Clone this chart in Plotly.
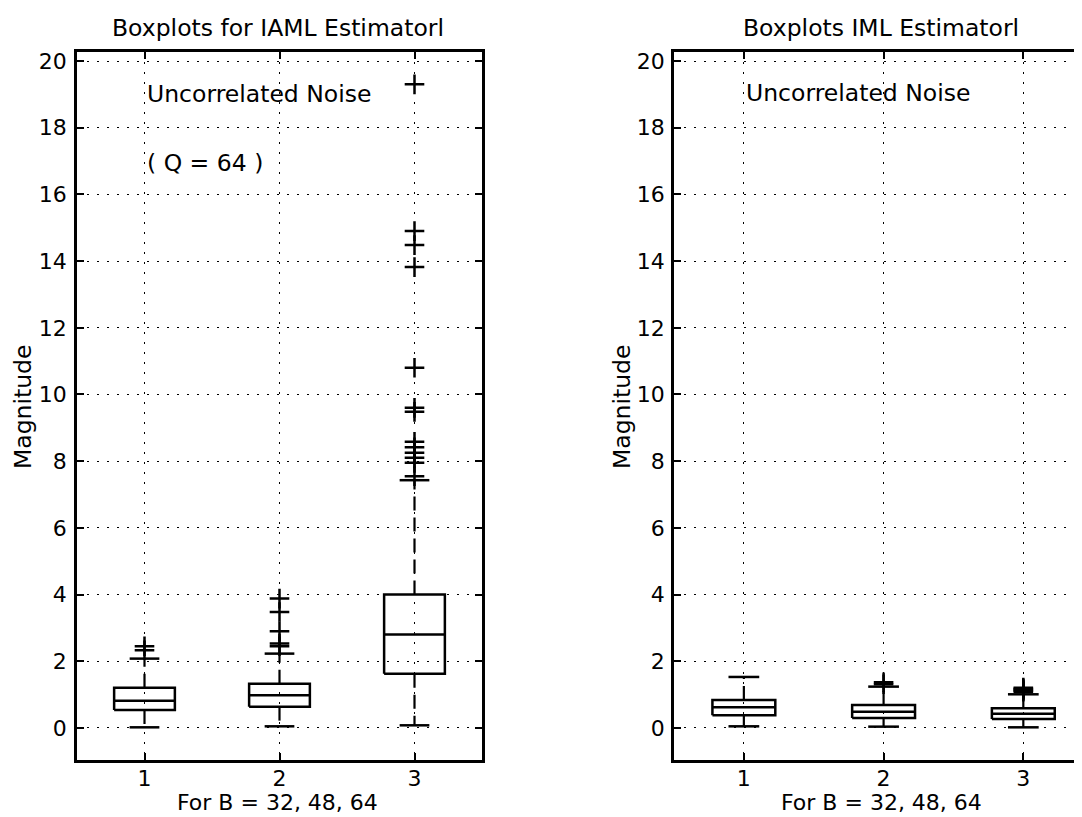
import plotly.graph_objects as go

# Box statistics, one entry per B = 32, 48, 64
POSITIONS = [1, 2, 3]
AML_Q1 = [0.54, 0.64, 1.63]
AML_MED = [0.82, 0.98, 2.80]
AML_Q3 = [1.21, 1.33, 4.00]
AML_LO = [0.02, 0.05, 0.08]
AML_HI = [2.08, 2.23, 7.43]
AML_OUT = [
    [2.33, 2.45],
    [2.45, 2.53, 2.90, 3.48, 3.88],
    [7.55, 7.95, 8.10, 8.25, 8.42, 8.58, 9.48, 9.60, 10.80, 13.82, 14.48, 14.90, 19.30],
]

ML_Q1 = [0.38, 0.30, 0.27]
ML_MED = [0.62, 0.49, 0.43]
ML_Q3 = [0.84, 0.69, 0.59]
ML_LO = [0.05, 0.04, 0.02]
ML_HI = [1.53, 1.24, 1.01]
ML_OUT = [[], [1.31, 1.37], [1.09, 1.12, 1.15, 1.18, 1.21]]

Y_TICKS = list(range(0, 21, 2))
X_TICKS = [1, 2, 3]

FONT = "DejaVu Sans"
FS = 23.5
BW = 0.225   # half box width
CW = 0.11    # half cap width

# the page body has an 8px margin, so the figure is shifted by it
OFF = 8
W, H = 1082 - OFF, 817 - OFF


def px(x):
    return (x - OFF) / W


def py(y):
    return 1 - (y - OFF) / H


def box_traces(xa, ya, q1, med, q3, lo, hi, out):
    bx, by, mx, my, wx, wy, cx, cy, ox, oy = ([] for _ in range(10))
    for p, a, m, b, l, h, o in zip(POSITIONS, q1, med, q3, lo, hi, out):
        bx += [p - BW, p + BW, p + BW, p - BW, p - BW, None]
        by += [a, a, b, b, a, None]
        mx += [p - BW, p + BW, None]
        my += [m, m, None]
        wx += [p, p, None, p, p, None]
        wy += [b, h, None, a, l, None]
        cx += [p - CW, p + CW, None, p - CW, p + CW, None]
        cy += [h, h, None, l, l, None]
        ox += [p] * len(o)
        oy += o
    line = dict(color="black", width=2.5)
    common = dict(xaxis=xa, yaxis=ya, mode="lines", hoverinfo="skip", showlegend=False)
    return [
        go.Scatter(x=wx, y=wy, line=dict(color="black", width=2.2, dash="14px,7px"), **common),
        go.Scatter(x=cx, y=cy, line=line, **common),
        go.Scatter(x=bx, y=by, line=line, **common),
        go.Scatter(x=mx, y=my, line=line, **common),
        go.Scatter(x=ox, y=oy, xaxis=xa, yaxis=ya, mode="markers", hoverinfo="skip",
                   showlegend=False,
                   marker=dict(symbol="cross-thin", size=14, color="black",
                               line=dict(color="black", width=2.5))),
    ]


fig = go.Figure()
for t in box_traces("x", "y", AML_Q1, AML_MED, AML_Q3, AML_LO, AML_HI, AML_OUT):
    fig.add_trace(t)
for t in box_traces("x2", "y2", ML_Q1, ML_MED, ML_Q3, ML_LO, ML_HI, ML_OUT):
    fig.add_trace(t)

ydom = [py(760), py(52)]
axis_common = dict(
    showline=True, linecolor="black", linewidth=2.5,
    ticks="inside", ticklen=7, tickwidth=2, tickcolor="black",
    showgrid=True, gridcolor="black", gridwidth=1.3, griddash="2px,8px",
    zeroline=False, automargin=False,
    tickfont=dict(family=FONT, size=22, color="black"),
)

fig.update_layout(
    width=W, height=H,
    margin=dict(l=0, r=0, t=0, b=0),
    paper_bgcolor="white", plot_bgcolor="white",
    xaxis=dict(axis_common, domain=[px(77), px(482)], range=[0.5, 3.5],
               tickvals=X_TICKS, mirror="ticks", anchor="y", ticklabelstandoff=-3),
    yaxis=dict(axis_common, domain=ydom, range=[-0.96, 20.27],
               tickvals=Y_TICKS, mirror="ticks", anchor="x", ticklabelstandoff=3),
    xaxis2=dict(axis_common, domain=[px(674), 1.0], range=[0.5, 3.42],
                tickvals=X_TICKS, mirror="ticks", anchor="y2", ticklabelstandoff=-3),
    yaxis2=dict(axis_common, domain=ydom, range=[-0.96, 20.27],
                tickvals=Y_TICKS, mirror=False, anchor="x2", ticklabelstandoff=2),
)

txt = dict(family=FONT, size=FS, color="black")
ann = [
    dict(text="Boxplots for IAML Estimatorl", x=px(278), y=py(28)),
    dict(text="Boxplots IML Estimatorl", x=px(881), y=py(28)),
    dict(text="Magnitude", x=px(23), y=py(407), textangle=-90),
    dict(text="Magnitude", x=px(622), y=py(407), textangle=-90),
]
for a in ann:
    fig.add_annotation(xref="paper", yref="paper", showarrow=False,
                       xanchor="center", yanchor="middle", font=txt, **a)

for xc in (277, 881):
    fig.add_annotation(text="For B = 32, 48, 64", x=px(xc), y=0,
                       xref="paper", yref="paper", showarrow=False,
                       xanchor="center", yanchor="bottom",
                       font=dict(family=FONT, size=22, color="black"))

fig.add_annotation(text="Uncorrelated Noise", x=1, y=19, xref="x", yref="y",
                   xanchor="left", yanchor="middle", showarrow=False, font=txt)
fig.add_annotation(text="( Q = 64 )", x=1, y=16.95, xref="x", yref="y",
                   xanchor="left", yanchor="middle", showarrow=False, font=txt)
fig.add_annotation(text="Uncorrelated Noise", x=1, y=19.05, xref="x2", yref="y2",
                   xanchor="left", yanchor="middle", showarrow=False, font=txt)

fig.write_html("out.html")
